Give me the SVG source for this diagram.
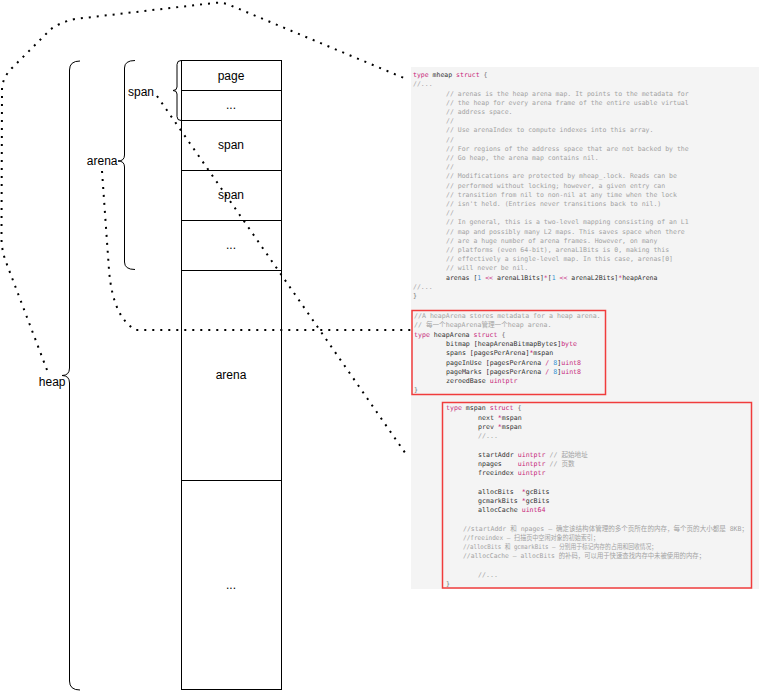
<svg xmlns="http://www.w3.org/2000/svg" width="759" height="692" viewBox="0 0 759 692">
  <style>
    .lbl { font-family: "Liberation Sans", Arial, sans-serif; font-size: 12px; fill: #000; }
    .mid { text-anchor: middle; }
    .end { text-anchor: end; }
    .cell { fill: #fff; stroke: #000; stroke-width: 1; }
    .brace { fill: none; stroke: #000; stroke-width: 1; }
    .mono { font-family: "DejaVu Sans Mono", "Noto Sans CJK SC", monospace; fill: #333; }
    .f1 { font-size: 6.5px; }
    .f2 { font-size: 6.6px; }
    .c { fill: #a3a3a3; }
    .k { fill: #c7267a; }
    .n { fill: #2f8fd0; }
    .p { fill: #777; }
    .box { fill: none; stroke: #f03c3c; stroke-width: 1.5; }
  </style>

  <!-- memory column -->
  <g id="column">
    <g id="cell-page"><rect class="cell" x="181.5" y="60.5" width="100" height="30"/><text class="lbl mid" x="231" y="80">page</text></g>
    <g id="cell-page-more"><rect class="cell" x="181.5" y="90.5" width="100" height="30"/><text class="lbl mid" x="231" y="109.3">...</text></g>
    <g id="cell-span1"><rect class="cell" x="181.5" y="120.5" width="100" height="50"/><text class="lbl mid" x="231" y="149.3">span</text></g>
    <g id="cell-span2"><rect class="cell" x="181.5" y="170.5" width="100" height="50"/><text class="lbl mid" x="231" y="199.3">span</text></g>
    <g id="cell-span-more"><rect class="cell" x="181.5" y="220.5" width="100" height="50"/><text class="lbl mid" x="231" y="249.3">...</text></g>
    <g id="cell-arena"><rect class="cell" x="181.5" y="270.5" width="100" height="210"/><text class="lbl mid" x="231" y="379.3">arena</text></g>
    <g id="cell-arena-more"><rect class="cell" x="181.5" y="480.5" width="100" height="209"/><text class="lbl mid" x="231" y="589.3">...</text></g>
  </g>

  <!-- braces with their labels -->
  <g id="brace-span">
    <path class="brace" d="M 181 60.5 Q 177 60.5 177 64.5 L 177 87 Q 177 90.5 173 90.5 Q 177 90.5 177 94 L 177 116.5 Q 177 120.5 181 120.5"/>
    <text class="lbl end" x="154" y="95.5">span</text>
  </g>
  <g id="brace-arena">
    <path class="brace" d="M 135 60.5 Q 124.5 60.5 124.5 68 L 124.5 155 Q 124.5 161 118 161 Q 124.5 161 124.5 167 L 124.5 262 Q 124.5 269.5 135 269.5"/>
    <text class="lbl end" x="117.5" y="165">arena</text>
  </g>
  <g id="brace-heap">
    <path class="brace" d="M 80 61 Q 69.5 61 69.5 70 L 69.5 368 Q 69.5 375.5 62 375.5 Q 69.5 375.5 69.5 383 L 69.5 681 Q 69.5 690 80 690"/>
    <text class="lbl end" x="65.5" y="385.5">heap</text>
  </g>

  <!-- source listing panel -->
  <g id="panel-mheap">
    <rect x="411" y="67" width="348" height="522" fill="#f4f4f4"/>
    <text class="mono f1" x="413" y="77.2"><tspan class="k">type</tspan> mheap <tspan class="k">struct</tspan> <tspan class="p">{</tspan></text>
    <text class="mono f1 c" x="413" y="86.4">//...</text>
    <text class="mono f1 c" x="446" y="95.6">// arenas is the heap arena map. It points to the metadata for</text>
    <text class="mono f1 c" x="446" y="104.8">// the heap for every arena frame of the entire usable virtual</text>
    <text class="mono f1 c" x="446" y="114">// address space.</text>
    <text class="mono f1 c" x="446" y="123.2">//</text>
    <text class="mono f1 c" x="446" y="132.4">// Use arenaIndex to compute indexes into this array.</text>
    <text class="mono f1 c" x="446" y="141.6">//</text>
    <text class="mono f1 c" x="446" y="150.8">// For regions of the address space that are not backed by the</text>
    <text class="mono f1 c" x="446" y="160">// Go heap, the arena map contains nil.</text>
    <text class="mono f1 c" x="446" y="169.2">//</text>
    <text class="mono f1 c" x="446" y="178.4">// Modifications are protected by mheap_.lock. Reads can be</text>
    <text class="mono f1 c" x="446" y="187.6">// performed without locking; however, a given entry can</text>
    <text class="mono f1 c" x="446" y="196.8">// transition from nil to non-nil at any time when the lock</text>
    <text class="mono f1 c" x="446" y="206">// isn't held. (Entries never transitions back to nil.)</text>
    <text class="mono f1 c" x="446" y="215.2">//</text>
    <text class="mono f1 c" x="446" y="224.4">// In general, this is a two-level mapping consisting of an L1</text>
    <text class="mono f1 c" x="446" y="233.6">// map and possibly many L2 maps. This saves space when there</text>
    <text class="mono f1 c" x="446" y="242.8">// are a huge number of arena frames. However, on many</text>
    <text class="mono f1 c" x="446" y="252">// platforms (even 64-bit), arenaL1Bits is 0, making this</text>
    <text class="mono f1 c" x="446" y="261.2">// effectively a single-level map. In this case, arenas[0]</text>
    <text class="mono f1 c" x="446" y="270.4">// will never be nil.</text>
    <text class="mono f1" x="446" y="279.6">arenas [<tspan class="n">1</tspan> <tspan class="k">&lt;&lt;</tspan> arenaL1Bits]<tspan class="k">*</tspan>[<tspan class="n">1</tspan> <tspan class="k">&lt;&lt;</tspan> arenaL2Bits]<tspan class="k">*</tspan>heapArena</text>
    <text class="mono f1 c" x="413" y="288.8">//...</text>
    <text class="mono f1 p" x="413" y="298">}</text>
  </g>

  <g id="panel-heapArena">
    <rect class="box" x="412" y="310.5" width="193.5" height="84"/>
    <text class="mono f2 c" x="414" y="318">//A heapArena stores metadata for a heap arena.</text>
    <text class="mono f2 c" x="414" y="327.3">// 每一个heapArena管理一个heap arena.</text>
    <text class="mono f2" x="414" y="336.6"><tspan class="k">type</tspan> heapArena <tspan class="k">struct</tspan> <tspan class="p">{</tspan></text>
    <text class="mono f2" x="446" y="345.9">bitmap [heapArenaBitmapBytes]<tspan class="k">byte</tspan></text>
    <text class="mono f2" x="446" y="355.2">spans [pagesPerArena]<tspan class="k">*</tspan>mspan</text>
    <text class="mono f2" x="446" y="364.5">pageInUse [pagesPerArena <tspan class="k">/</tspan> <tspan class="n">8</tspan>]<tspan class="k">uint8</tspan></text>
    <text class="mono f2" x="446" y="373.8">pageMarks [pagesPerArena <tspan class="k">/</tspan> <tspan class="n">8</tspan>]<tspan class="k">uint8</tspan></text>
    <text class="mono f2" x="446" y="383.1">zeroedBase <tspan class="k">uintptr</tspan></text>
    <text class="mono f2 p" x="414" y="392.4">}</text>
  </g>

  <g id="panel-mspan">
    <rect class="box" x="442.5" y="402.5" width="309" height="185.5"/>
    <text class="mono f2" x="446" y="410.3"><tspan class="k">type</tspan> mspan <tspan class="k">struct</tspan> <tspan class="p">{</tspan></text>
    <text class="mono f2" x="478" y="419.6">next <tspan class="k">*</tspan>mspan</text>
    <text class="mono f2" x="478" y="428.8">prev <tspan class="k">*</tspan>mspan</text>
    <text class="mono f2 c" x="478" y="438">//...</text>
    <text class="mono f2" x="478" y="456.6">startAddr <tspan class="k">uintptr</tspan> <tspan class="c">// 起始地址</tspan></text>
    <text class="mono f2" x="478" y="465.8">npages<tspan x="517.7" class="k">uintptr</tspan> <tspan class="c">// 页数</tspan></text>
    <text class="mono f2" x="478" y="475">freeindex <tspan class="k">uintptr</tspan></text>
    <text class="mono f2" x="478" y="493.6">allocBits<tspan x="521.7" class="k">*</tspan>gcBits</text>
    <text class="mono f2" x="478" y="502.8">gcmarkBits <tspan class="k">*</tspan>gcBits</text>
    <text class="mono f2" x="478" y="512">allocCache <tspan class="k">uint64</tspan></text>
    <text class="mono f2 c" x="463" y="530.6" textLength="285" lengthAdjust="spacingAndGlyphs">//startAddr 和 npages — 确定该结构体管理的多个页所在的内存，每个页的大小都是 8KB；</text>
    <text class="mono f2 c" x="463" y="539.8" textLength="136" lengthAdjust="spacingAndGlyphs">//freeindex — 扫描页中空闲对象的初始索引；</text>
    <text class="mono f2 c" x="463" y="549" textLength="194" lengthAdjust="spacingAndGlyphs">//allocBits 和 gcmarkBits — 分别用于标记内存的占用和回收情况；</text>
    <text class="mono f2 c" x="463" y="558.2" textLength="242" lengthAdjust="spacingAndGlyphs">//allocCache — allocBits 的补码，可以用于快速查找内存中未被使用的内存；</text>
    <text class="mono f2 c" x="478" y="576.7">//...</text>
    <text class="mono f2 p" x="446" y="585.9">}</text>
  </g>

  <!-- dotted links from the labels to their struct definitions -->
  <g id="connectors" fill="none" stroke="#000" stroke-width="2" stroke-dasharray="2 6">
    <path id="link-heap" d="M 47 370 L 6 262 Q 1.5 250 1.5 238 L 2 90 Q 2 78 12 68 L 50 30 Q 58 23 75 19 L 214 3 Q 224 2 232 6 L 404 78"/>
    <path id="link-arena" d="M 102 171 L 109 270 Q 113 318 136 330 L 411 330"/>
    <path id="link-span" d="M 157 96 L 408 457"/>
  </g>
</svg>
